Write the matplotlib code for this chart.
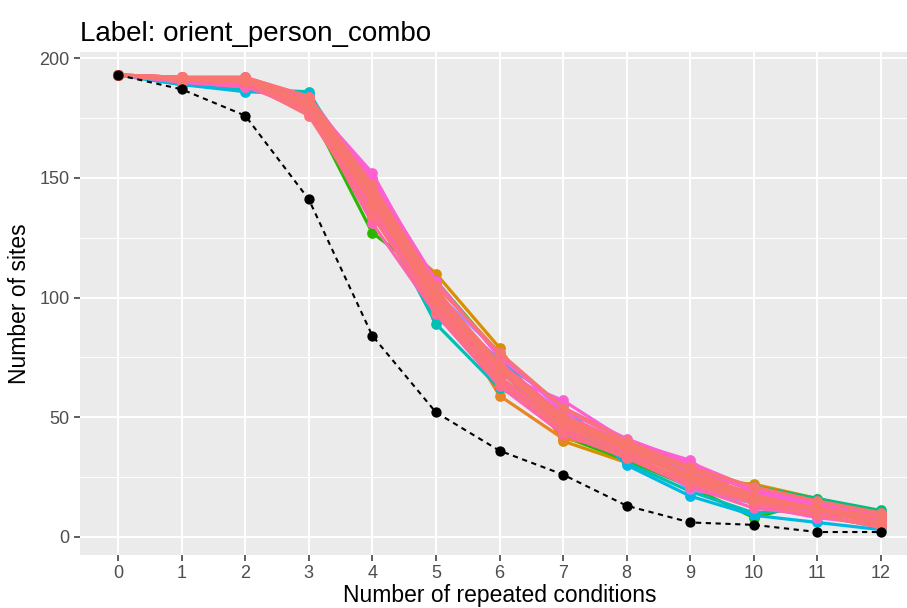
import numpy as np
import matplotlib
matplotlib.use('Agg')
import matplotlib.pyplot as plt

# --- data ---
conditions = list(range(13))

# observed (black dashed) curve
observed = [193, 187, 176, 141, 84, 52, 36, 26, 13, 6, 5, 2, 2]

# permuted curves (coloured); outliers first, bulk of the band last
perm_runs = [
    [193, 191, 190, 178, 133, 110, 79, 40, 31, 24, 22, 16, 10],
    [193, 190, 189, 179, 127, 107, 76, 42, 32, 21, 8, 15, 9],
    [193, 192, 191, 181, 138, 103, 59, 41, 37, 26, 18, 11, 6],
    [193, 190, 188, 184, 136, 92, 70, 44, 34, 28, 21, 16, 11],
    [193, 189, 187, 186, 140, 89, 62, 50, 31, 19, 10, 12, 8],
    [193, 189, 186, 185, 146, 97, 74, 55, 30, 17, 9, 6, 3],
    [193, 190, 188, 183, 148, 102, 77, 52, 36, 20, 14, 9, 4],
    [193, 191, 190, 180, 142, 99, 72, 47, 38, 27, 16, 13, 7],
    [193, 191, 191, 182, 152, 104, 68, 57, 40, 32, 13, 8, 5],
    [193, 191, 189, 177, 137, 96, 66, 45, 35, 22, 15, 10, 6],
    [193, 190, 188, 179, 131, 93, 63, 43, 33, 21, 12, 9, 4],
    [193, 192, 190, 181, 144, 101, 73, 51, 39, 29, 19, 14, 9],
    [193, 191, 191, 179, 141, 98, 69, 48, 37, 25, 17, 12, 7],
    [193, 192, 192, 183, 150, 107, 75, 54, 41, 31, 20, 14, 8],
    [193, 191, 190, 176, 135, 94, 64, 46, 34, 23, 15, 11, 5],
    [193, 192, 191, 180, 143, 100, 71, 49, 38, 26, 18, 13, 8],
    [193, 192, 192, 184, 149, 106, 76, 53, 40, 30, 19, 13, 7],
    [193, 191, 190, 178, 139, 97, 67, 47, 36, 24, 16, 11, 6],
    [193, 192, 191, 182, 145, 103, 72, 50, 39, 28, 17, 12, 8],
    [193, 191, 190, 177, 134, 95, 65, 44, 33, 22, 14, 9, 4],
    [193, 192, 192, 184, 147, 105, 77, 54, 40, 29, 21, 15, 10],
    [193, 191, 191, 181, 140, 99, 70, 48, 37, 25, 16, 12, 6],
]
run_hues = [50, 125, 35, 160, 185, 215, 275, 300, 325,
            335, 345, 350, 355, 330, 10, 15, 328, 12, 15, 8, 14, 15]


def hcl_rgb(h, c=100, l=65):
    # polar Luv -> sRGB, same idea as ggplot's hue_pal
    hr = np.deg2rad(h)
    u, v = c * np.cos(hr), c * np.sin(hr)
    Y = ((l + 16) / 116) ** 3
    un, vn = 0.19784, 0.46834
    up, vp = u / (13 * l) + un, v / (13 * l) + vn
    X = Y * 9 * up / (4 * vp)
    Z = Y * (12 - 3 * up - 20 * vp) / (4 * vp)
    M = np.array([[3.2406, -1.5372, -0.4986],
                  [-0.9689, 1.8758, 0.0415],
                  [0.0557, -0.2040, 1.0570]])
    rgb = M @ np.array([X, Y, Z])
    rgb = np.where(rgb <= 0.0031308, 12.92 * rgb,
                   1.055 * np.clip(rgb, 0, None) ** (1 / 2.4) - 0.055)
    return tuple(np.clip(rgb, 0, 1))


plt.rcParams['font.family'] = ['Liberation Sans', 'DejaVu Sans']

fig = plt.figure(figsize=(9.07, 6.08), dpi=100)
ax = fig.add_axes([80 / 907, 1 - 555 / 608, 839 / 907, 503 / 608])
ax.set_facecolor('#EBEBEB')

for run, hue in zip(perm_runs, run_hues):
    col = hcl_rgb(hue)
    ax.plot(conditions, run, color=col, lw=2.3, zorder=3)
    ax.scatter(conditions, run, color=col, s=60, zorder=3, linewidths=0)

ax.plot(conditions, observed, color='black', lw=1.5, ls=(0, (2.5, 2.2)), zorder=4)
ax.scatter(conditions, observed, color='black', s=55, zorder=5, linewidths=0)

ax.set_xlim(-0.6, 12.6)
ax.set_ylim(-7.6, 202.6)
ax.set_xticks(conditions)
ax.set_yticks([0, 50, 100, 150, 200])
ax.set_yticks([25, 75, 125, 175], minor=True)
ax.set_xticklabels([str(c) for c in conditions])
ax.grid(True, which='major', color='white', lw=1.4, zorder=0)
ax.grid(True, which='minor', axis='y', color='white', lw=0.7, zorder=0)
ax.set_axisbelow(True)
for s in ax.spines.values():
    s.set_visible(False)
ax.tick_params(axis='both', which='major', length=4.5, width=1.1, color='#333333',
               labelsize=13, labelcolor='#4D4D4D', pad=3)
ax.tick_params(axis='y', which='minor', length=0)

ax.set_xlabel('Number of repeated conditions', fontsize=16.5, labelpad=1)
ax.set_ylabel('Number of sites', fontsize=16.5, labelpad=6)
ax.set_title('Label: orient_person_combo', fontsize=20, loc='left', pad=8, x=0.0)

fig.savefig('out.png', dpi=100)
